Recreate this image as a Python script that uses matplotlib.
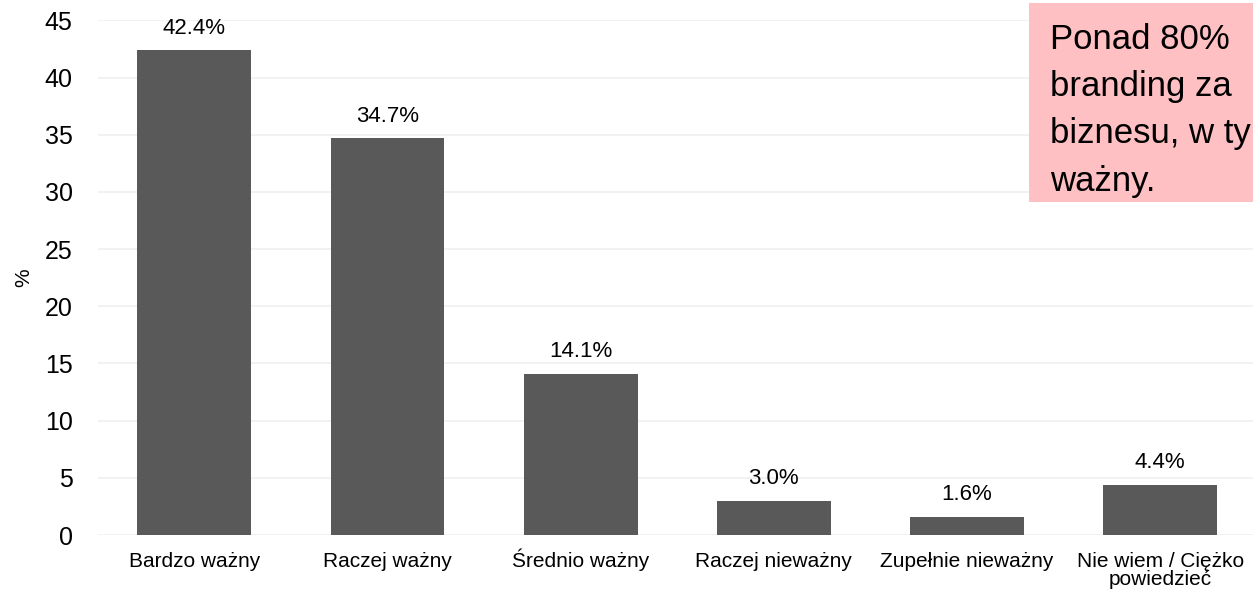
import matplotlib
matplotlib.use("Agg")
import matplotlib.pyplot as plt
from matplotlib.patches import Rectangle
from matplotlib.transforms import ScaledTranslation

plt.rcParams['font.family'] = ['Liberation Sans', 'DejaVu Sans']

categories = ["Bardzo ważny", "Raczej ważny", "Średnio ważny", "Raczej nieważny",
              "Zupełnie nieważny", "Nie wiem / Ciężko\npowiedzieć"]
values = [42.4, 34.7, 14.1, 3.0, 1.6, 4.4]
yticks = [0, 5, 10, 15, 20, 25, 30, 35, 40, 45]
# widoczna czesc komentarza (reszta ucieta przez krawedz obrazka)
note = "Ponad 80%\nbranding za\nbiznesu, w tym\nważny."

fig = plt.figure(figsize=(12.53, 5.95), dpi=100)
ax = fig.add_axes([0.078, 0.1008, 0.925, 0.865])

x = list(range(len(categories)))
ax.bar(x, values, width=0.59, color='#595959', zorder=3)
for xi, v in zip(x, values):
    ax.text(xi, v + 1.0, "%.1f%%" % v, ha='center', va='bottom', fontsize=16)

ax.set_xlim(-0.5, len(categories) - 0.5)
ax.set_ylim(0, 45)
ax.set_yticks(yticks)
ax.set_xticks(x)
ax.tick_params(axis='y', labelsize=18, length=0, pad=18)
ax.tick_params(axis='x', length=0, pad=23)
ax.set_xticklabels(categories, fontsize=15, linespacing=0.95)
for lab in ax.get_xticklabels():
    lab.set_va('baseline')
    n = lab.get_text().count("\n")
    if n:
        # baseline dotyczy ostatniej linii - przesun w dol, zeby pierwsza linia byla w rzedzie
        lab.set_transform(lab.get_transform() + ScaledTranslation(0, -0.185 * n, fig.dpi_scale_trans))
ax.yaxis.grid(True, color='#f0f0f0', linewidth=1.2, zorder=0)
for s in ax.spines.values():
    s.set_visible(False)
ax.set_ylabel("%", fontsize=15, labelpad=8)

# ramka z komentarzem (wychodzi poza prawa krawedz)
fig.patches.append(Rectangle((0.8212, 0.6605), 0.3, 0.3345, transform=fig.transFigure,
                             facecolor='#ffc0c3', edgecolor='none', zorder=5))
fig.text(0.838, 0.962, note, ha='left', va='top', fontsize=25, linespacing=1.55, zorder=6)

fig.savefig("out.png", dpi=100)
